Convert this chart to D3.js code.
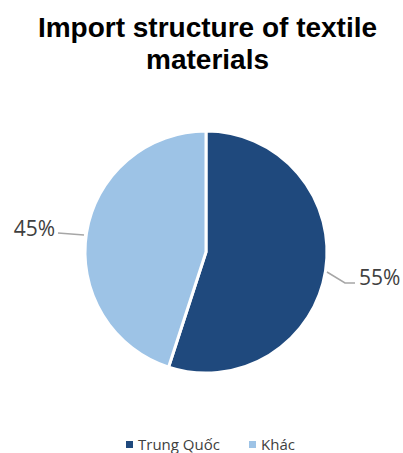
<!DOCTYPE html>
<html lang="en">
  <head>
    <meta charset="utf-8">
    <title></title>
    <style>
      body { margin: 0; background: #fff; }
      svg { display: block; }
    </style>
  </head>
  <body>
    <div id="chart"></div>
  </body>
  <script src="https://cdnjs.cloudflare.com/ajax/libs/d3/7.8.5/d3.min.js"></script>
  <script type="text/javascript">

    const categories = ['Trung Quốc', 'Khác']
    const values = [55, 45]
    const colors = ['#1f497d', '#9dc3e6']
    const titleLines = ['Import structure of textile', 'materials']

    const width = 403
    const height = 453
    const cx = 206
    const cy = 252
    const radius = 121

    const svg = d3.select('#chart')
      .append('svg')
      .attr('width', width)
      .attr('height', height)

    // title
    svg.selectAll('.title')
      .data(titleLines)
      .enter()
      .append('text')
      .attr('class', 'title')
      .attr('x', width / 2 + 6)
      .attr('y', (d, i) => 37 + i * 32)
      .attr('text-anchor', 'middle')
      .style('font-family', 'Liberation Sans, Arial, sans-serif')
      .style('font-weight', 'bold')
      .style('font-size', '28px')
      .text(d => d)

    const data = categories.map((c, i) => ({ name: c, value: values[i], color: colors[i] }))

    const pie = d3.pie().sort(null).value(d => d.value)
    const arc = d3.arc().innerRadius(0).outerRadius(radius)
    const arcs = pie(data)

    const chart = svg.append('g').attr('transform', `translate(${cx}, ${cy})`)

    chart.selectAll('.slice')
      .data(arcs)
      .enter()
      .append('path')
      .attr('class', 'slice')
      .attr('d', arc)
      .attr('fill', d => d.data.color)
      .attr('stroke', '#fff')
      .attr('stroke-width', 3)

    // labels with leader lines
    const labelPos = [
      { line: [[121, 20], [139, 31], [149, 31]], x: 153, y: 33, anchor: 'start' },
      { line: [[-122, -17], [-148, -19]], x: -151, y: -16, anchor: 'end' }
    ]

    chart.selectAll('.leader')
      .data(arcs)
      .enter()
      .append('polyline')
      .attr('class', 'leader')
      .attr('points', (d, i) => labelPos[i].line.map(p => p.join(',')).join(' '))
      .attr('fill', 'none')
      .attr('stroke', '#a6a6a6')
      .attr('stroke-width', 1.5)

    chart.selectAll('.pct')
      .data(arcs)
      .enter()
      .append('text')
      .attr('class', 'pct')
      .attr('x', (d, i) => labelPos[i].x)
      .attr('y', (d, i) => labelPos[i].y)
      .attr('text-anchor', (d, i) => labelPos[i].anchor)
      .style('font-family', 'Open Sans, sans-serif')
      .style('font-size', '21px')
      .style('fill', '#404040')
      .text(d => `${d.data.value}%`)

    // legend
    const legend = svg.append('g').attr('class', 'legend')
    const legendX = [126, 249]
    legend.selectAll('rect')
      .data(data)
      .enter()
      .append('rect')
      .attr('x', (d, i) => legendX[i])
      .attr('y', 441)
      .attr('width', 7)
      .attr('height', 7)
      .attr('fill', d => d.color)

    legend.selectAll('text')
      .data(data)
      .enter()
      .append('text')
      .attr('x', (d, i) => legendX[i] + 12)
      .attr('y', 450)
      .style('font-family', 'Open Sans, sans-serif')
      .style('font-size', '15px')
      .style('fill', '#404040')
      .text(d => d.name)

  </script>
</html>
